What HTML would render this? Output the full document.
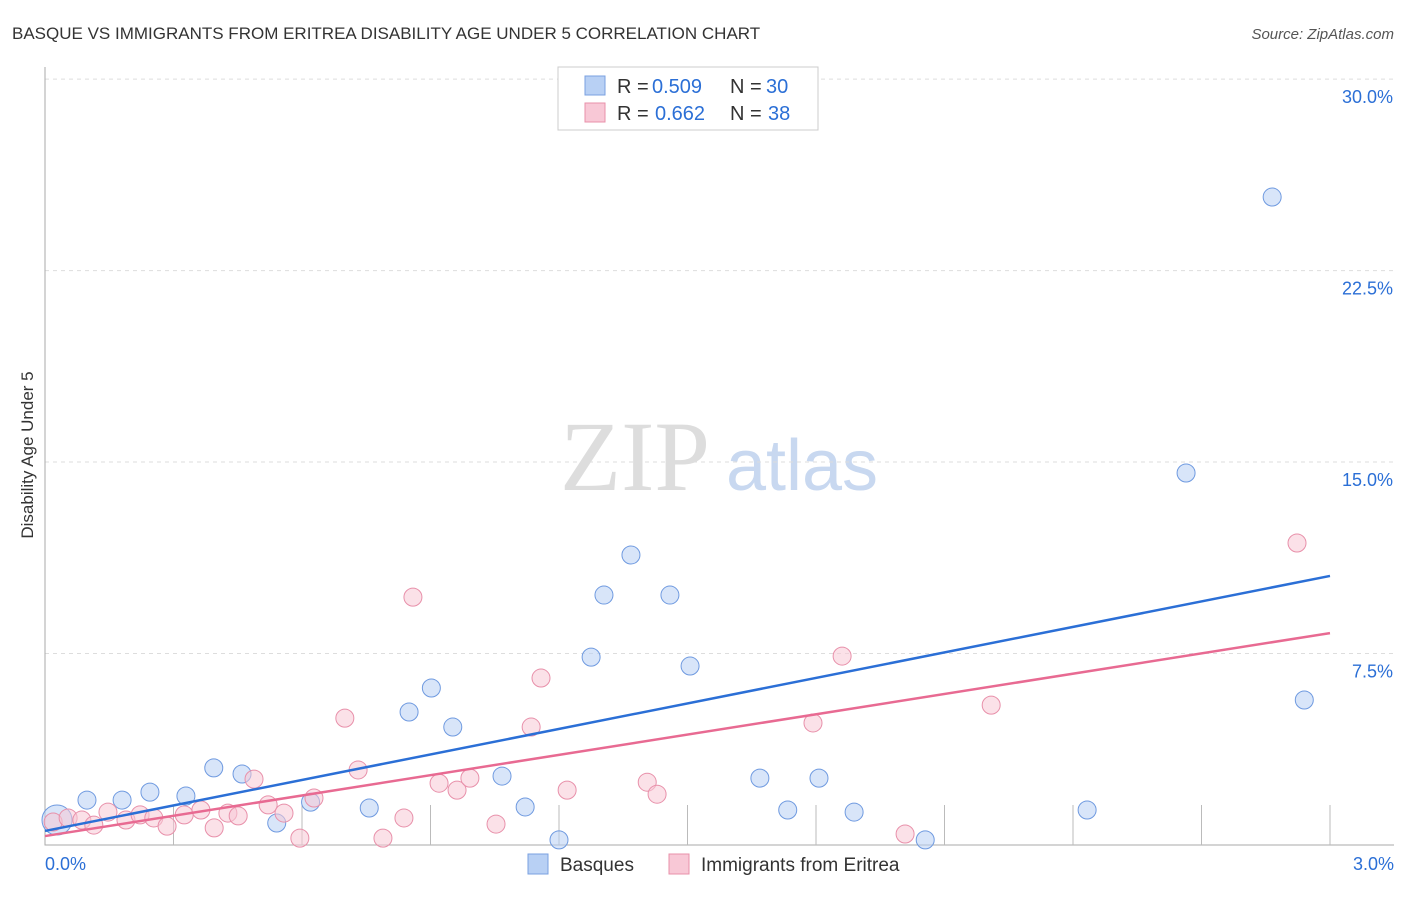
<!DOCTYPE html>
<html><head><meta charset="utf-8"><style>
body{margin:0;background:#fff;font-family:"Liberation Sans",sans-serif}
svg text{font-family:"Liberation Sans",sans-serif}
</style></head><body>
<svg id="chart" width="1406" height="892">
<text x="12" y="39" font-size="17" fill="#333">BASQUE VS IMMIGRANTS FROM ERITREA DISABILITY AGE UNDER 5 CORRELATION CHART</text>
<text x="1394" y="39" font-size="15" fill="#555" font-style="italic" text-anchor="end">Source: ZipAtlas.com</text>
<text x="33" y="455" font-size="17" fill="#333" transform="rotate(-90 33 455)" text-anchor="middle">Disability Age Under 5</text>
<text x="635" y="490" font-size="100" fill="#ddd" text-anchor="middle" style="font-family:'Liberation Serif',serif">ZIP</text>
<text x="802" y="490" font-size="72" fill="#c8d8f0" text-anchor="middle">atlas</text>
<g id="grid"></g><g id="marks"></g>
<g>
<rect x="558" y="67" width="260" height="63" fill="#fff" stroke="#ccc"/>
<rect x="585" y="76" width="20" height="19" fill="#b8d0f4" stroke="#7aa0e0"/>
<text x="617" y="93" font-size="20" fill="#333">R =</text>
<text x="652" y="93" font-size="20" fill="#2b6fd6">0.509</text>
<text x="730" y="93" font-size="20" fill="#333">N =</text>
<text x="766" y="93" font-size="20" fill="#2b6fd6">30</text>
<rect x="585" y="103" width="20" height="19" fill="#f8c8d6" stroke="#e890aa"/>
<text x="617" y="120" font-size="20" fill="#333">R =</text>
<text x="655" y="120" font-size="20" fill="#2b6fd6">0.662</text>
<text x="730" y="120" font-size="20" fill="#333">N =</text>
<text x="768" y="120" font-size="20" fill="#2b6fd6">38</text>
</g>
<g>
<rect x="528" y="854" width="20" height="20" fill="#b8d0f4" stroke="#7aa0e0"/>
<text x="560" y="871" font-size="19" fill="#333">Basques</text>
<rect x="669" y="854" width="20" height="20" fill="#f8c8d6" stroke="#e890aa"/>
<text x="701" y="871" font-size="19" fill="#333">Immigrants from Eritrea</text>
</g>
</svg>
<script>
const yTicks=[7.5,15,22.5,30];
const xTickLabels=["0.0%","3.0%"];
const blueX=[0.028,0.098,0.18,0.245,0.329,0.394,0.46,0.541,0.62,0.757,0.85,0.902,0.952,1.067,1.121,1.2,1.275,1.305,1.368,1.459,1.506,1.669,1.734,1.807,1.889,2.055,2.433,2.664,2.865,2.94];
const blueY=[0.98,1.76,1.76,2.07,1.92,3.02,2.78,0.86,1.68,1.45,5.21,6.15,4.62,2.7,1.49,0.2,7.36,9.79,11.36,9.79,7.01,2.62,1.37,2.62,1.29,0.2,1.37,14.57,25.38,5.68];
const pinkX=[0.019,0.054,0.086,0.114,0.147,0.189,0.222,0.254,0.285,0.325,0.364,0.395,0.427,0.451,0.488,0.521,0.558,0.595,0.628,0.7,0.731,0.789,0.838,0.859,0.92,0.962,0.992,1.053,1.135,1.158,1.219,1.406,1.429,1.793,1.861,2.008,2.209,2.923];
const pinkY=[0.9,1.06,0.98,0.78,1.29,0.98,1.18,1.06,0.74,1.18,1.37,0.67,1.25,1.14,2.58,1.57,1.25,0.27,1.84,4.97,2.94,0.27,1.06,9.71,2.42,2.15,2.62,0.82,4.62,6.54,2.15,2.46,1.99,4.78,7.4,0.43,5.48,11.83];
const blueFit=[0.55,10.54], pinkFit=[0.35,8.3];
const X=v=>45+v*428.33, Y=v=>845-v*25.53;
const NS="http://www.w3.org/2000/svg";
const grid=document.getElementById('grid'), marks=document.getElementById('marks');
function mk(p,tag,at){const e=document.createElementNS(NS,tag);for(const k in at)e.setAttribute(k,at[k]);p.appendChild(e);return e;}
yTicks.forEach(t=>{
 const l=mk(grid,'line',{x1:45,x2:1394,y1:Y(t),y2:Y(t),stroke:'#ddd','stroke-dasharray':'4,4'});
 
 
 const tx=mk(grid,'text',{x:1393,y:Y(t)+24,'font-size':18,fill:'#2b6fd6','text-anchor':'end'});
 tx.textContent=t.toFixed(1)+'%';
 
 
});
const ax=mk(grid,'path',{d:'M45 67V845H1394',fill:'none',stroke:'#aaa'});


for(let i=1;i<=10;i++){const t=mk(grid,'line',{x1:X(i*0.3),x2:X(i*0.3),y1:805,y2:845,stroke:'#bbb'});
 
 }
[[0,45,'start'],[3,1394,'end']].forEach((d,i)=>{const t=mk(grid,'text',{x:d[1],y:870,'font-size':18,fill:'#2b6fd6','text-anchor':d[2]});t.textContent=xTickLabels[i];
 
 });
function pts(xs,ys,fill,stroke,name){xs.forEach((x,i)=>{const c=mk(marks,'circle',{cx:X(x),cy:Y(ys[i]),r:(name==='basque-point'&&i===0)?15:9,fill:fill,stroke:stroke,'stroke-width':1,'fill-opacity':0.55});
 
 });}
pts(blueX,blueY,'#b8d0f4','#6f9ae0','basque-point');
pts(pinkX,pinkY,'#f8c8d6','#e890aa','eritrea-point');
const bl=mk(marks,'line',{x1:X(0),y1:Y(blueFit[0]),x2:X(3),y2:Y(blueFit[1]),stroke:'#2b6fd6','stroke-width':2.5});


const pl=mk(marks,'line',{x1:X(0),y1:Y(pinkFit[0]),x2:X(3),y2:Y(pinkFit[1]),stroke:'#e86a92','stroke-width':2.5});


</script>
</body></html>
